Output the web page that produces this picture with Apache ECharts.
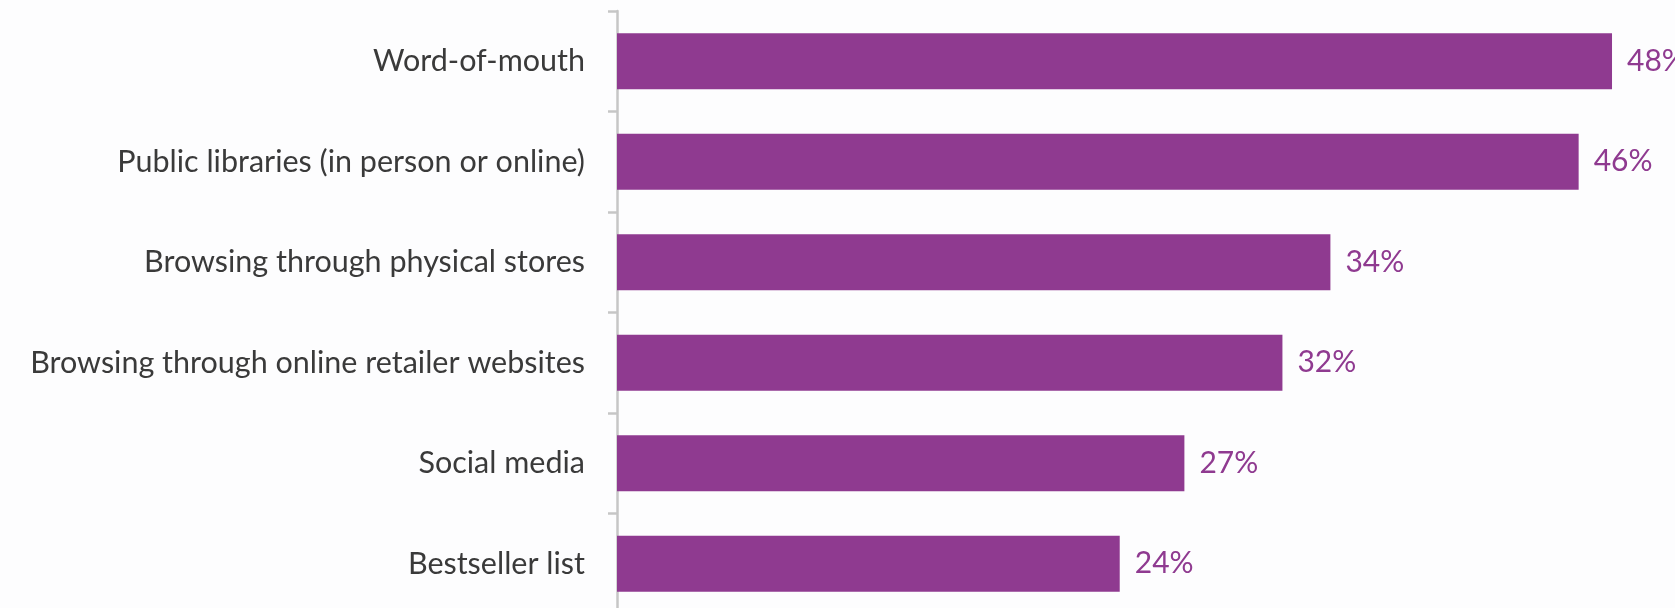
<!DOCTYPE html>
<html><head><meta charset="utf-8">
<script src="https://cdn.jsdelivr.net/npm/echarts@6/dist/echarts.min.js"></script>
<style>html,body{margin:0;padding:0;background:#fdfdfe;overflow:hidden;height:608px}#c{width:1675px;height:614px}</style>
</head><body><div id="c"></div>
<script>
const categories = ["Word-of-mouth","Public libraries (in person or online)","Browsing through physical stores","Browsing through online retailer websites","Social media","Bestseller list"];
const values = [47.7, 46.1, 34.2, 31.9, 27.2, 24.1];
const labels = ["48%","46%","34%","32%","27%","24%"];
const chart = echarts.init(document.getElementById('c'));
chart.setOption({
  animation:false,
  backgroundColor:'#fdfdfe',
  grid:{left:617,right:15,top:11,bottom:0,containLabel:false},
  xAxis:{type:'value',min:0,max:50,show:false},
  yAxis:{type:'category',data:categories,inverse:true,
    axisLine:{lineStyle:{color:'#c6c6c6',width:2.5}},
    axisTick:{show:true,length:9,lineStyle:{color:'#c6c6c6',width:2.5}},
    axisLabel:{color:'#3a3a3a',fontFamily:'Lato',fontSize:30.5,margin:32}
  },
  series:[{type:'bar',data:values,barWidth:56,
    itemStyle:{color:'#8f3a90'},
    label:{show:true,position:'right',distance:15,color:'#8f3a90',fontFamily:'Lato',fontSize:30,
      formatter:p=>labels[p.dataIndex]}
  }]
});
</script></body></html>
